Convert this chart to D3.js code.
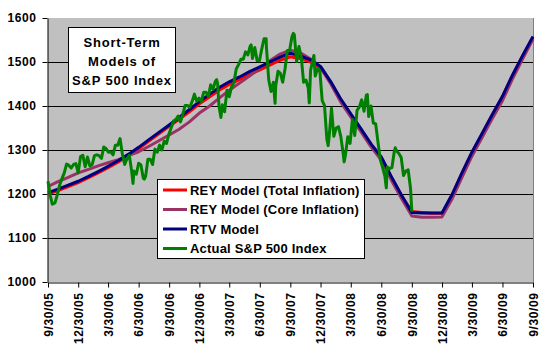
<!DOCTYPE html>
<html><head><meta charset="utf-8">
<script src="https://cdn.jsdelivr.net/npm/d3@7"></script>
<style>
body{margin:0;background:#fff;}
text{font-family:"Liberation Sans",Arial,sans-serif;font-weight:bold;fill:#000;}
</style></head>
<body><svg id="c" width="550" height="350"></svg>
<script>
const yTicks = [1000,1100,1200,1300,1400,1500,1600];
const xTickLabels = ["9/30/05","12/30/05","3/30/06","6/30/06","9/30/06","12/30/06","3/30/07","6/30/07","9/30/07","12/30/07","3/30/08","6/30/08","9/30/08","12/30/08","3/30/09","6/30/09","9/30/09"];
const seriesNames = ["REY Model (Total Inflation)","REY Model (Core Inflation)","RTV Model","Actual S&P 500 Index"];
const seriesColors = ["#FF0000","#993366","#000080","#008000"];
const titleLines = ["Short-Term","Models of","S&P 500 Index"];

const modelDates = ["2005-09-30","2005-10-30","2005-11-30","2005-12-30","2006-01-30","2006-02-28","2006-03-30","2006-04-30","2006-05-30","2006-06-30","2006-07-30","2006-08-30","2006-09-30","2006-10-30","2006-11-30","2006-12-30","2007-01-30","2007-02-28","2007-03-30","2007-04-30","2007-05-30","2007-06-30","2007-07-30","2007-08-30","2007-09-30","2007-10-30","2007-11-30","2007-12-30","2008-01-30","2008-02-28","2008-03-30","2008-04-30","2008-05-30","2008-06-30","2008-07-30","2008-08-30","2008-09-30","2008-10-30","2008-11-30","2008-12-30","2009-01-30","2009-02-28","2009-03-30","2009-04-30","2009-05-30","2009-06-30","2009-07-30","2009-08-30","2009-09-30"];
const reyTotal = [1200,1208,1217,1226,1237,1248,1260,1273,1287,1303,1320,1337,1354,1370,1387,1405,1421,1436,1449,1460,1471,1482,1493,1504,1512,1508,1500,1487,1453,1415,1380,1346,1312,1282,1238,1196,1160,1158,1156,1156,1199,1247,1294,1337,1379,1421,1469,1514,1556];
const reyCore = [1217,1228,1238,1248,1256,1264,1271,1278,1287,1296,1308,1321,1334,1347,1364,1384,1400,1418,1436,1452,1468,1486,1503,1518,1527,1521,1507,1487,1450,1410,1375,1341,1307,1277,1232,1190,1150,1147,1147,1148,1190,1238,1286,1329,1371,1412,1461,1507,1552];
const rtv = [1203,1211,1220,1229,1240,1251,1263,1276,1290,1306,1323,1340,1357,1374,1392,1410,1427,1442,1455,1466,1478,1489,1500,1511,1520,1514,1505,1490,1455,1417,1382,1348,1314,1284,1240,1197,1158,1157,1157,1157,1200,1248,1295,1338,1380,1422,1470,1515,1558];

const actualDates = ["2005-09-30","2005-10-07","2005-10-13","2005-10-21","2005-10-28","2005-11-04","2005-11-11","2005-11-18","2005-11-25","2005-12-02","2005-12-09","2005-12-16","2005-12-23","2005-12-30","2006-01-06","2006-01-13","2006-01-20","2006-01-27","2006-02-03","2006-02-10","2006-02-17","2006-02-24","2006-03-03","2006-03-10","2006-03-17","2006-03-24","2006-03-31","2006-04-07","2006-04-14","2006-04-21","2006-04-28","2006-05-05","2006-05-12","2006-05-19","2006-05-26","2006-06-02","2006-06-09","2006-06-13","2006-06-16","2006-06-23","2006-06-30","2006-07-07","2006-07-14","2006-07-17","2006-07-21","2006-07-28","2006-08-04","2006-08-11","2006-08-18","2006-08-25","2006-09-01","2006-09-08","2006-09-15","2006-09-22","2006-09-29","2006-10-06","2006-10-13","2006-10-20","2006-10-27","2006-11-03","2006-11-10","2006-11-17","2006-11-24","2006-12-01","2006-12-08","2006-12-15","2006-12-22","2006-12-29","2007-01-05","2007-01-12","2007-01-19","2007-01-26","2007-02-02","2007-02-09","2007-02-16","2007-02-20","2007-02-23","2007-02-27","2007-03-02","2007-03-05","2007-03-09","2007-03-16","2007-03-23","2007-03-30","2007-04-06","2007-04-13","2007-04-20","2007-04-27","2007-05-04","2007-05-11","2007-05-18","2007-05-25","2007-06-01","2007-06-04","2007-06-08","2007-06-15","2007-06-22","2007-06-29","2007-07-06","2007-07-13","2007-07-19","2007-07-20","2007-07-27","2007-08-03","2007-08-10","2007-08-15","2007-08-17","2007-08-24","2007-08-31","2007-09-07","2007-09-14","2007-09-21","2007-09-28","2007-10-05","2007-10-09","2007-10-12","2007-10-19","2007-10-26","2007-11-02","2007-11-09","2007-11-16","2007-11-23","2007-11-26","2007-11-30","2007-12-07","2007-12-10","2007-12-14","2007-12-21","2007-12-28","2008-01-04","2008-01-11","2008-01-18","2008-01-22","2008-01-25","2008-02-01","2008-02-08","2008-02-15","2008-02-22","2008-02-29","2008-03-07","2008-03-10","2008-03-14","2008-03-21","2008-03-28","2008-04-04","2008-04-11","2008-04-18","2008-04-25","2008-05-02","2008-05-09","2008-05-16","2008-05-19","2008-05-23","2008-05-30","2008-06-06","2008-06-13","2008-06-20","2008-06-27","2008-07-03","2008-07-11","2008-07-15","2008-07-18","2008-07-25","2008-08-01","2008-08-08","2008-08-11","2008-08-15","2008-08-22","2008-08-29","2008-09-05","2008-09-12","2008-09-19","2008-09-26","2008-09-30"];
const actualValues = [1229,1196,1177,1180,1198,1220,1235,1248,1268,1265,1259,1267,1269,1248,1285,1288,1262,1284,1264,1267,1287,1289,1287,1281,1307,1303,1295,1296,1289,1311,1311,1326,1291,1267,1280,1288,1252,1224,1252,1245,1270,1266,1236,1234,1240,1279,1279,1267,1302,1295,1311,1300,1320,1315,1336,1350,1366,1369,1377,1364,1381,1401,1401,1397,1410,1427,1411,1418,1410,1431,1431,1422,1448,1438,1456,1460,1451,1400,1387,1374,1403,1387,1436,1421,1444,1453,1484,1494,1506,1506,1523,1516,1536,1539,1508,1533,1503,1503,1530,1553,1553,1534,1459,1433,1454,1406,1446,1479,1474,1454,1484,1526,1527,1558,1565,1562,1501,1535,1510,1454,1459,1441,1407,1481,1505,1515,1468,1485,1479,1412,1401,1325,1310,1331,1395,1331,1350,1353,1331,1293,1273,1288,1330,1315,1370,1333,1390,1398,1414,1388,1425,1426,1376,1400,1361,1360,1318,1278,1263,1240,1214,1261,1258,1260,1296,1305,1298,1292,1283,1242,1252,1255,1213,1160];

const parse = d3.timeParse("%Y-%m-%d");
const parseTick = d3.timeParse("%m/%d/%y");
const svg = d3.select("#c");
const L=48,R=533,T=18,B=282;
const x = d3.scaleTime().domain([parseTick(xTickLabels[0]), parseTick(xTickLabels[xTickLabels.length-1])]).range([L,R]);
const y = d3.scaleLinear().domain([1000,1600]).range([B,T]);

svg.append("rect").attr("x",L).attr("y",T).attr("width",R-L).attr("height",B-T).attr("fill","#C0C0C0");
svg.append("line").attr("x1",R+0.5).attr("x2",R+0.5).attr("y1",T).attr("y2",B).attr("stroke","#808080");
svg.append("g").selectAll("line").data(yTicks.filter(v=>v>1000&&v<1600)).join("line")
  .attr("x1",L).attr("x2",R).attr("y1",d=>Math.round(y(d))+0.5).attr("y2",d=>Math.round(y(d))+0.5)
  .attr("stroke","#000").attr("stroke-width",1);

const yAxis = svg.append("g").attr("transform",`translate(${L-0.5},0)`)
  .call(d3.axisLeft(y).tickValues(yTicks).tickSize(5).tickSizeOuter(0).tickPadding(6).tickFormat(d3.format("d")));
yAxis.selectAll("text").style("font-size","12px").attr("letter-spacing","0.6px");
yAxis.selectAll("path,line").attr("stroke","#000");

const xAxis = svg.append("g").attr("transform",`translate(0,${B+0.5})`)
  .call(d3.axisBottom(x).tickValues(xTickLabels.map(parseTick)).tickSize(5).tickSizeOuter(0).tickFormat((d,i)=>xTickLabels[i]));
xAxis.selectAll("path,line").attr("stroke","#000");
xAxis.selectAll("text").style("font-size","12px").attr("letter-spacing","0.6px")
  .attr("transform","rotate(-90)").attr("text-anchor","end").attr("x",-10).attr("y",0).attr("dy","0.35em");

const mDates = modelDates.map(parse);
const line = d3.line().x(d=>x(d[0])).y(d=>y(d[1]));
const plot = svg.append("g");
[reyTotal,reyCore,rtv].forEach((vals,i)=>{
  plot.append("path").datum(vals.map((v,j)=>[mDates[j],v])).attr("d",line)
    .attr("fill","none").attr("stroke",seriesColors[i]).attr("stroke-width",3).attr("stroke-linejoin","round");
});
plot.append("path").datum(actualValues.map((v,j)=>[parse(actualDates[j]),v])).attr("d",line)
  .attr("fill","none").attr("stroke",seriesColors[3]).attr("stroke-width",3).attr("stroke-linejoin","round");

// Title box
const tb = svg.append("g");
tb.append("rect").attr("x",68.5).attr("y",27.5).attr("width",107).attr("height",65).attr("fill","#fff").attr("stroke","#000");
tb.selectAll("text").data(titleLines).join("text").attr("x",122).attr("y",(d,i)=>47+i*19)
  .attr("text-anchor","middle").style("font-size","13px").attr("letter-spacing","0.8px").text(d=>d);

// Legend
const lg = svg.append("g");
lg.append("rect").attr("x",157.5).attr("y",179.5).attr("width",207).attr("height",79).attr("fill","#fff").attr("stroke","#000");
seriesNames.forEach((n,i)=>{
  const cy = 190+i*19.5;
  lg.append("line").attr("x1",163).attr("x2",187).attr("y1",cy).attr("y2",cy).attr("stroke",seriesColors[i]).attr("stroke-width",3);
  lg.append("text").attr("x",190).attr("y",cy).attr("dy","0.36em").style("font-size","13px").attr("letter-spacing","0.2px").text(n);
});
</script></body></html>
